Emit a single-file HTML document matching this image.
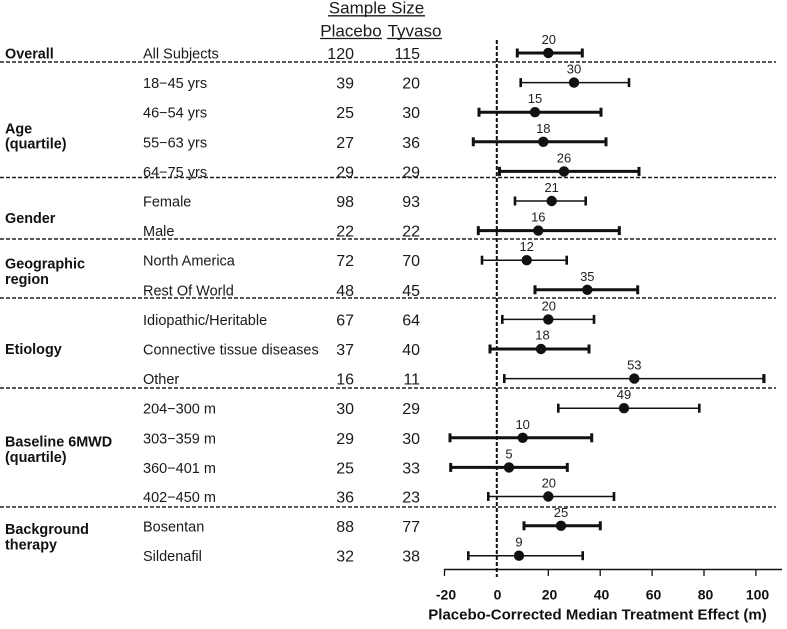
<!DOCTYPE html>
<html><head><meta charset="utf-8"><style>
html,body{margin:0;padding:0;background:#fff;}
svg{display:block;font-family:"Liberation Sans",Arial,sans-serif;}
.cat{font-weight:bold;font-size:14.4px;fill:#111;}
.sub{font-size:14.5px;fill:#1a1a1a;}
.num{font-size:16px;fill:#1a1a1a;text-anchor:end;}
.hdr{font-size:17px;fill:#1a1a1a;text-anchor:middle;}
.val{font-size:13px;fill:#222;text-anchor:middle;}
.tick{font-size:14px;font-weight:bold;fill:#111;text-anchor:middle;}
.sep{stroke:#222;stroke-width:1.5;stroke-dasharray:4 2;}
</style></head><body>
<svg width="787" height="629" viewBox="0 0 787 629" xmlns="http://www.w3.org/2000/svg">
<!-- header -->
<text class="hdr" x="376.5" y="13.5">Sample Size</text>
<line x1="328" y1="15.8" x2="425" y2="15.8" stroke="#1a1a1a" stroke-width="1.3"/>
<text class="hdr" x="351" y="36.3">Placebo</text>
<line x1="320" y1="38.5" x2="382" y2="38.5" stroke="#1a1a1a" stroke-width="1.3"/>
<text class="hdr" x="414.5" y="36.3">Tyvaso</text>
<line x1="387" y1="38.5" x2="442" y2="38.5" stroke="#1a1a1a" stroke-width="1.3"/>

<!-- category labels -->
<text class="cat" x="5" y="58.5">Overall</text>
<text class="cat" x="5" y="133.5">Age</text>
<text class="cat" x="5" y="148.5">(quartile)</text>
<text class="cat" x="5" y="223">Gender</text>
<text class="cat" x="5" y="268.5">Geographic</text>
<text class="cat" x="5" y="284">region</text>
<text class="cat" x="5" y="354">Etiology</text>
<text class="cat" x="5" y="446.7">Baseline 6MWD</text>
<text class="cat" x="5" y="462">(quartile)</text>
<text class="cat" x="5" y="534">Background</text>
<text class="cat" x="5" y="549.5">therapy</text>

<!-- separators -->
<line class="sep" x1="0" y1="62" x2="776" y2="62"/>
<line class="sep" x1="0" y1="177.5" x2="776" y2="177.5"/>
<line class="sep" x1="0" y1="239" x2="776" y2="239"/>
<line class="sep" x1="0" y1="298" x2="776" y2="298"/>
<line class="sep" x1="0" y1="388" x2="776" y2="388"/>
<line class="sep" x1="0" y1="507" x2="776" y2="507"/>

<!-- zero line -->
<line x1="496.8" y1="40" x2="496.8" y2="577" stroke="#111" stroke-width="2" stroke-dasharray="4 2"/>

<!-- axis -->
<line x1="444" y1="569.5" x2="782" y2="569.5" stroke="#111" stroke-width="1.5"/>
<g stroke="#111" stroke-width="1.3">
<line x1="444.5" y1="569.5" x2="444.5" y2="576"/>
<line x1="548.3" y1="569.5" x2="548.3" y2="576"/>
<line x1="600.2" y1="569.5" x2="600.2" y2="576"/>
<line x1="652.1" y1="569.5" x2="652.1" y2="576"/>
<line x1="704" y1="569.5" x2="704" y2="576"/>
<line x1="755.9" y1="569.5" x2="755.9" y2="576"/>
</g>
<text class="tick" x="446" y="599.5">-20</text>
<text class="tick" x="497.5" y="599.5">0</text>
<text class="tick" x="549.5" y="599.5">20</text>
<text class="tick" x="601.5" y="599.5">40</text>
<text class="tick" x="653.5" y="599.5">60</text>
<text class="tick" x="705.5" y="599.5">80</text>
<text class="tick" x="757.5" y="599.5">100</text>
<text x="597.5" y="619.5" font-size="15" font-weight="bold" fill="#111" text-anchor="middle">Placebo-Corrected Median Treatment Effect (m)</text>

<!-- rows -->
<g id="rows">
<!-- row 0 y=53 -->
<text class="sub" x="143" y="58.5">All Subjects</text>
<text class="num" x="354" y="59">120</text><text class="num" x="420" y="59">115</text>
<line x1="517.3" y1="53" x2="582.3" y2="53" stroke="#111" stroke-width="3"/>
<rect x="515.8" y="48.5" width="3" height="9" fill="#111"/><rect x="580.8" y="48.5" width="3" height="9" fill="#111"/>
<circle cx="548.3" cy="53" r="5.2" fill="#111"/><text class="val" x="548.8" y="44">20</text>

<!-- row 1 y=82.6 -->
<text class="sub" x="143" y="88">18−45 yrs</text>
<text class="num" x="354" y="88.6">39</text><text class="num" x="420" y="88.6">20</text>
<line x1="520.7" y1="82.6" x2="629" y2="82.6" stroke="#111" stroke-width="1.5"/>
<rect x="519.4" y="78.1" width="2.6" height="9" fill="#111"/><rect x="627.7" y="78.1" width="2.6" height="9" fill="#111"/>
<circle cx="574" cy="82.6" r="5.2" fill="#111"/><text class="val" x="574" y="73.6">30</text>

<!-- row 2 y=112.2 -->
<text class="sub" x="143" y="117.7">46−54 yrs</text>
<text class="num" x="354" y="118.2">25</text><text class="num" x="420" y="118.2">30</text>
<line x1="479" y1="112.2" x2="601" y2="112.2" stroke="#111" stroke-width="3"/>
<rect x="477.5" y="107.7" width="3" height="9" fill="#111"/><rect x="599.5" y="107.7" width="3" height="9" fill="#111"/>
<circle cx="535" cy="112.2" r="5.2" fill="#111"/><text class="val" x="535" y="103.2">15</text>

<!-- row 3 y=141.8 -->
<text class="sub" x="143" y="147.3">55−63 yrs</text>
<text class="num" x="354" y="147.8">27</text><text class="num" x="420" y="147.8">36</text>
<line x1="473.3" y1="141.8" x2="606" y2="141.8" stroke="#111" stroke-width="3"/>
<rect x="471.8" y="137.3" width="3" height="9" fill="#111"/><rect x="604.5" y="137.3" width="3" height="9" fill="#111"/>
<circle cx="543.3" cy="141.8" r="5.2" fill="#111"/><text class="val" x="543.3" y="132.8">18</text>

<!-- row 4 y=171.4 -->
<text class="sub" x="143" y="176.9">64−75 yrs</text>
<text class="num" x="354" y="177.4">29</text><text class="num" x="420" y="177.4">29</text>
<line x1="499.5" y1="171.4" x2="639" y2="171.4" stroke="#111" stroke-width="3"/>
<rect x="498" y="166.9" width="3" height="9" fill="#111"/><rect x="637.5" y="166.9" width="3" height="9" fill="#111"/>
<circle cx="564" cy="171.4" r="5.2" fill="#111"/><text class="val" x="564" y="162.4">26</text>

<!-- row 5 y=201 -->
<text class="sub" x="143" y="206.5">Female</text>
<text class="num" x="354" y="207">98</text><text class="num" x="420" y="207">93</text>
<line x1="515" y1="201" x2="585.7" y2="201" stroke="#111" stroke-width="1.5"/>
<rect x="513.7" y="196.5" width="2.6" height="9" fill="#111"/><rect x="584.4" y="196.5" width="2.6" height="9" fill="#111"/>
<circle cx="551.7" cy="201" r="5.2" fill="#111"/><text class="val" x="551.7" y="192">21</text>

<!-- row 6 y=230.6 -->
<text class="sub" x="143" y="236.1">Male</text>
<text class="num" x="354" y="236.6">22</text><text class="num" x="420" y="236.6">22</text>
<line x1="478.3" y1="230.6" x2="619.3" y2="230.6" stroke="#111" stroke-width="3"/>
<rect x="476.8" y="226.1" width="3" height="9" fill="#111"/><rect x="617.8" y="226.1" width="3" height="9" fill="#111"/>
<circle cx="538.3" cy="230.6" r="5.2" fill="#111"/><text class="val" x="538.3" y="221.6">16</text>

<!-- row 7 y=260.2 -->
<text class="sub" x="143" y="265.7">North America</text>
<text class="num" x="354" y="266.2">72</text><text class="num" x="420" y="266.2">70</text>
<line x1="482" y1="260.2" x2="566.7" y2="260.2" stroke="#111" stroke-width="1.5"/>
<rect x="480.7" y="255.7" width="2.6" height="9" fill="#111"/><rect x="565.4" y="255.7" width="2.6" height="9" fill="#111"/>
<circle cx="526.7" cy="260.2" r="5.2" fill="#111"/><text class="val" x="526.7" y="251.2">12</text>

<!-- row 8 y=289.8 -->
<text class="sub" x="143" y="295.3">Rest Of World</text>
<text class="num" x="354" y="295.8">48</text><text class="num" x="420" y="295.8">45</text>
<line x1="535" y1="289.8" x2="637.7" y2="289.8" stroke="#111" stroke-width="3"/>
<rect x="533.5" y="285.3" width="3" height="9" fill="#111"/><rect x="636.2" y="285.3" width="3" height="9" fill="#111"/>
<circle cx="587.3" cy="289.8" r="5.2" fill="#111"/><text class="val" x="587.3" y="280.8">35</text>

<!-- row 9 y=319.4 -->
<text class="sub" x="143" y="324.9">Idiopathic/Heritable</text>
<text class="num" x="354" y="325.4">67</text><text class="num" x="420" y="325.4">64</text>
<line x1="502.3" y1="319.4" x2="594" y2="319.4" stroke="#111" stroke-width="1.5"/>
<rect x="501" y="314.9" width="2.6" height="9" fill="#111"/><rect x="592.7" y="314.9" width="2.6" height="9" fill="#111"/>
<circle cx="548.3" cy="319.4" r="5.2" fill="#111"/><text class="val" x="548.8" y="310.4">20</text>

<!-- row 10 y=349 -->
<text class="sub" x="143" y="354.5">Connective tissue diseases</text>
<text class="num" x="354" y="355">37</text><text class="num" x="420" y="355">40</text>
<line x1="490" y1="349" x2="589" y2="349" stroke="#111" stroke-width="3"/>
<rect x="488.5" y="344.5" width="3" height="9" fill="#111"/><rect x="587.5" y="344.5" width="3" height="9" fill="#111"/>
<circle cx="541" cy="349" r="5.2" fill="#111"/><text class="val" x="542.5" y="339.5">18</text>

<!-- row 11 y=378.6 -->
<text class="sub" x="143" y="384.1">Other</text>
<text class="num" x="354" y="384.6">16</text><text class="num" x="420" y="384.6">11</text>
<line x1="504.3" y1="378.6" x2="764" y2="378.6" stroke="#111" stroke-width="1.5"/>
<rect x="503" y="374.1" width="2.6" height="9" fill="#111"/><rect x="762.3" y="374.1" width="3.2" height="9" fill="#111"/>
<circle cx="634.3" cy="378.6" r="5.2" fill="#111"/><text class="val" x="634.3" y="369.6">53</text>

<!-- row 12 y=408.2 -->
<text class="sub" x="143" y="413.7">204−300 m</text>
<text class="num" x="354" y="414.2">30</text><text class="num" x="420" y="414.2">29</text>
<line x1="558.3" y1="408.2" x2="699.3" y2="408.2" stroke="#111" stroke-width="1.5"/>
<rect x="557" y="403.7" width="2.6" height="9" fill="#111"/><rect x="698" y="403.7" width="2.6" height="9" fill="#111"/>
<circle cx="624" cy="408.2" r="5.2" fill="#111"/><text class="val" x="624" y="399.2">49</text>

<!-- row 13 y=437.8 -->
<text class="sub" x="143" y="443.3">303−359 m</text>
<text class="num" x="354" y="443.8">29</text><text class="num" x="420" y="443.8">30</text>
<line x1="450" y1="437.8" x2="591.7" y2="437.8" stroke="#111" stroke-width="3"/>
<rect x="448.5" y="433.3" width="3" height="9" fill="#111"/><rect x="590.2" y="433.3" width="3" height="9" fill="#111"/>
<circle cx="522.7" cy="437.8" r="5.2" fill="#111"/><text class="val" x="522.7" y="428.8">10</text>

<!-- row 14 y=467.4 -->
<text class="sub" x="143" y="472.9">360−401 m</text>
<text class="num" x="354" y="473.4">25</text><text class="num" x="420" y="473.4">33</text>
<line x1="450.7" y1="467.4" x2="567.3" y2="467.4" stroke="#111" stroke-width="3"/>
<rect x="449.2" y="462.9" width="3" height="9" fill="#111"/><rect x="565.8" y="462.9" width="3" height="9" fill="#111"/>
<circle cx="509" cy="467.4" r="5.2" fill="#111"/><text class="val" x="509" y="458.4">5</text>

<!-- row 15 y=497 -->
<text class="sub" x="143" y="502">402−450 m</text>
<text class="num" x="354" y="502.5">36</text><text class="num" x="420" y="502.5">23</text>
<line x1="488.3" y1="496.5" x2="614" y2="496.5" stroke="#111" stroke-width="1.5"/>
<rect x="487" y="492" width="2.6" height="9" fill="#111"/><rect x="612.7" y="492" width="2.6" height="9" fill="#111"/>
<circle cx="548.3" cy="496.5" r="5.2" fill="#111"/><text class="val" x="548.8" y="487.5">20</text>

<!-- row 16 y=526 -->
<text class="sub" x="143" y="531.3">Bosentan</text>
<text class="num" x="354" y="531.8">88</text><text class="num" x="420" y="531.8">77</text>
<line x1="524" y1="525.8" x2="600.3" y2="525.8" stroke="#111" stroke-width="3"/>
<rect x="522.5" y="521.3" width="3" height="9" fill="#111"/><rect x="598.8" y="521.3" width="3" height="9" fill="#111"/>
<circle cx="561" cy="525.8" r="5.2" fill="#111"/><text class="val" x="561" y="516.8">25</text>

<!-- row 17 y=556 -->
<text class="sub" x="143" y="561.2">Sildenafil</text>
<text class="num" x="354" y="561.7">32</text><text class="num" x="420" y="561.7">38</text>
<line x1="468.3" y1="555.7" x2="582.7" y2="555.7" stroke="#111" stroke-width="1.5"/>
<rect x="467" y="551.2" width="2.6" height="9" fill="#111"/><rect x="581.4" y="551.2" width="2.6" height="9" fill="#111"/>
<circle cx="519" cy="555.7" r="5.2" fill="#111"/><text class="val" x="519" y="546.7">9</text>
</g>
</svg>
</body></html>
